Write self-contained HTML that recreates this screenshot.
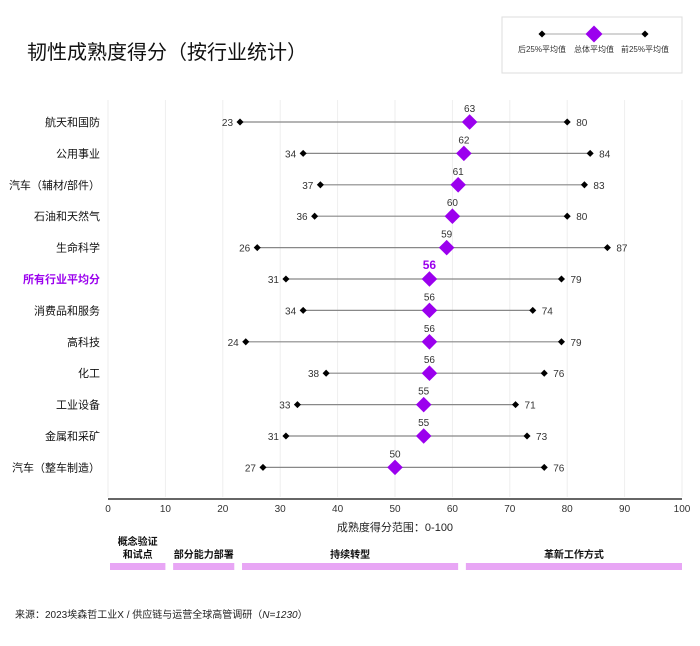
<!DOCTYPE html>
<html><head><meta charset="utf-8"><style>
body{margin:0;background:#fff;width:700px;height:641px;overflow:hidden;font-family:"Liberation Sans","Noto Sans CJK SC",sans-serif}
</style></head><body>
<svg width="700" height="641" xmlns="http://www.w3.org/2000/svg" style="font-family:'Liberation Sans','Noto Sans CJK SC',sans-serif">
<text x="27" y="59" font-size="20" fill="#111">韧性成熟度得分（按行业统计）</text>
<g>
<rect x="502" y="17" width="180" height="56" fill="#fff" stroke="#ddd"/>
<line x1="542" y1="34" x2="645" y2="34" stroke="#aaa" stroke-width="1"/>
<rect x="539.5" y="31.5" width="5" height="5" transform="rotate(45 542 34)" fill="#000"/>
<rect x="588" y="28" width="12" height="12" transform="rotate(45 594 34)" fill="#9b00ee"/>
<rect x="642.5" y="31.5" width="5" height="5" transform="rotate(45 645 34)" fill="#000"/>
<text x="542" y="52" font-size="8" text-anchor="middle" fill="#333">后25%平均值</text>
<text x="594" y="52" font-size="8" text-anchor="middle" fill="#333">总体平均值</text>
<text x="645" y="52" font-size="8" text-anchor="middle" fill="#333">前25%平均值</text>
</g>
<g id="grid"></g>
<g id="rows"></g>
<line x1="108" y1="499" x2="682" y2="499" stroke="#333" stroke-width="1.5"/>
<g id="ticks"></g>
<text x="395" y="531" font-size="11" text-anchor="middle" fill="#222">成熟度得分范围：0-100</text>
<g id="bands"></g>
<text x="15" y="618" font-size="10" fill="#222">来源：2023埃森哲工业X / 供应链与运营全球高管调研（<tspan font-style="italic">N=1230</tspan>）</text>
</svg>
<script>
const categories=["航天和国防","公用事业","汽车（辅材/部件）","石油和天然气","生命科学","所有行业平均分","消费品和服务","高科技","化工","工业设备","金属和采矿","汽车（整车制造）"];
const lowValues=[23,34,37,36,26,31,34,24,38,33,31,27];
const avgValues=[63,62,61,60,59,56,56,56,56,55,55,50];
const highValues=[80,84,83,80,87,79,74,79,76,71,73,76];
const tickValues=[0,10,20,30,40,50,60,70,80,90,100];
const bandLabels=[["概念验证","和试点"],["部分能力部署"],["持续转型"],["革新工作方式"]];
const bandStarts=[0,11,23,62];
const bandEnds=[10,22,61,100];
const NS="http://www.w3.org/2000/svg";
const x=v=>108+v*5.74;
const y=i=>122+i*31.4;
function mk(t,a,p){const e=document.createElementNS(NS,t);for(const k in a)e.setAttribute(k,a[k]);p.appendChild(e);return e;}
const grid=document.getElementById('grid'),ticks=document.getElementById('ticks'),rows=document.getElementById('rows'),bands=document.getElementById('bands');
tickValues.forEach(v=>{
 const l=mk('line',{x1:x(v),x2:x(v),y1:100,y2:497,stroke:'#eee','stroke-width':1},grid);
 
 
 const t=mk('text',{x:x(v),y:512,'font-size':10,'text-anchor':'middle',fill:'#333'},ticks);t.textContent=v;
 
 
});
categories.forEach((c,i)=>{
 const g=mk('g',{},rows);
 
 
 const yy=y(i),isAll=i===5;
 const lab=mk('text',{x:100,y:yy+4,'font-size':11,'text-anchor':'end',fill:isAll?'#9b00ee':'#111','font-weight':isAll?'bold':'normal'},g);lab.textContent=c;
 
 
 mk('line',{x1:x(lowValues[i]),x2:x(highValues[i]),y1:yy,y2:yy,stroke:'#888','stroke-width':1.2},g);
 [lowValues[i],highValues[i]].forEach(v=>{
  const d=mk('rect',{x:x(v)-2.5,y:yy-2.5,width:5,height:5,fill:'#000',transform:`rotate(45 ${x(v)} ${yy})`},g);
  
  
 });
 const m=mk('rect',{x:x(avgValues[i])-5.5,y:yy-5.5,width:11,height:11,fill:'#9b00ee',transform:`rotate(45 ${x(avgValues[i])} ${yy})`},g);
 
 
 const lt=mk('text',{x:x(lowValues[i])-7,y:yy+4,'font-size':10,'text-anchor':'end',fill:'#333'},g);lt.textContent=lowValues[i];
 const ht=mk('text',{x:x(highValues[i])+9,y:yy+4,'font-size':10,fill:'#333'},g);ht.textContent=highValues[i];
 const at=mk('text',{x:x(avgValues[i]),y:yy-10,'font-size':isAll?12:10,'text-anchor':'middle',fill:isAll?'#9b00ee':'#333','font-weight':isAll?'bold':'normal'},g);at.textContent=avgValues[i];
});
bandLabels.forEach((b,i)=>{
 const x1=x(bandStarts[i])+2,x2=x(bandEnds[i]);
 const r=mk('rect',{x:x1,y:563,width:x2-x1,height:7,fill:'#e8a6f5'},bands);
 
 
 b.forEach((s,j)=>{const t=mk('text',{x:(x1+x2)/2,y:b.length===2?545+j*13:558,'font-size':10,'font-weight':'bold','text-anchor':'middle',fill:'#111'},bands);t.textContent=s;
  
  });
});
</script>
</body></html>
